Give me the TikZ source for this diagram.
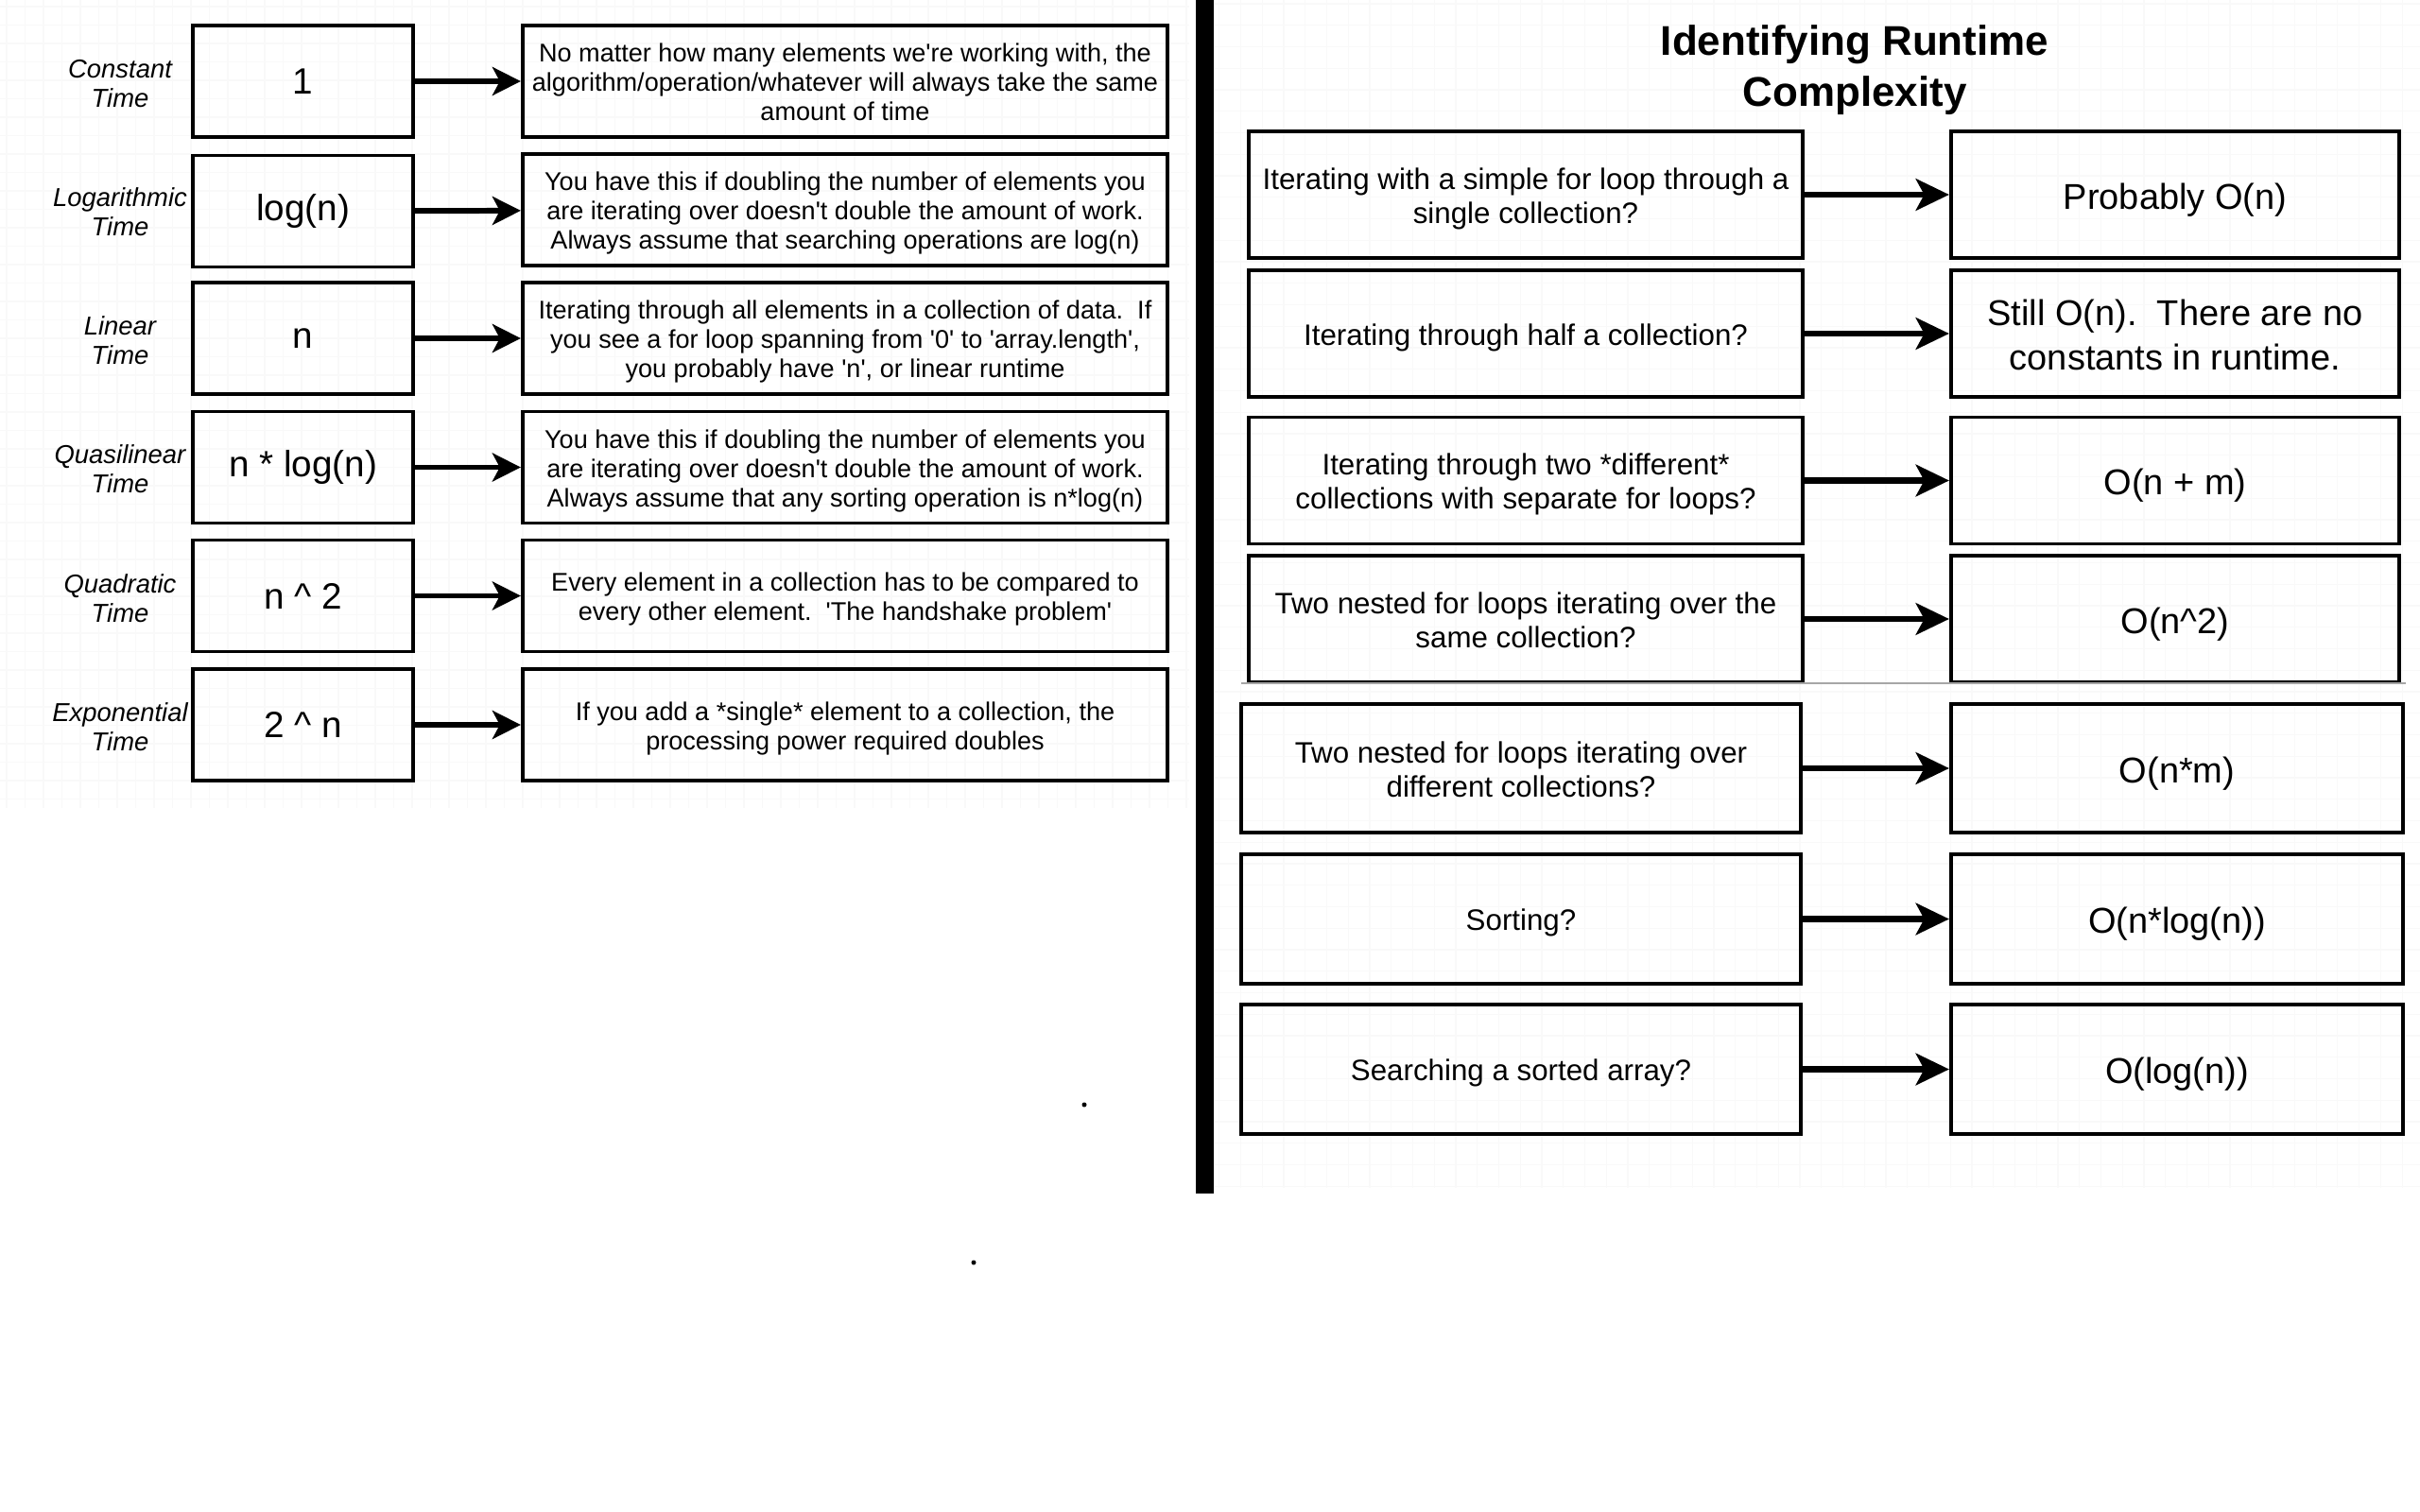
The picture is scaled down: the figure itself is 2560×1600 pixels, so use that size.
\documentclass[tikz,border=0pt]{standalone}
\usepackage{fontspec}
\setmainfont{Liberation Sans}
\usetikzlibrary{arrows.meta}
\newcommand{\sq}{\textquotesingle}
\newcommand{\caret}{\textasciicircum}
% struts that give every box the same text centring
\newcommand{\tp}{\rule{0pt}{1em}}
\newcommand{\bt}{\rule[-0.21em]{0pt}{0.21em}}

\begin{document}
\begin{tikzpicture}[x=0.01cm,y=-0.01cm,
  symbox/.style={draw,line width=1.1pt,minimum width=2.33cm,minimum height=1.18cm,
    inner sep=0pt,font=\fontsize{11}{13}\selectfont},
  descbox/.style={draw,line width=1.1pt,minimum width=6.82cm,minimum height=1.18cm,
    inner sep=0pt,align=center,font=\fontsize{7.7}{8.8}\selectfont},
  lbl/.style={align=center,inner sep=0pt,font=\fontsize{7.8}{8.8}\selectfont\itshape},
  qbox/.style={draw,line width=1.1pt,minimum width=5.86cm,minimum height=1.34cm,
    inner sep=0pt,align=center,font=\fontsize{8.9}{10.24}\selectfont},
  abox/.style={draw,line width=1.1pt,minimum width=4.74cm,minimum height=1.34cm,
    inner sep=0pt,align=center,font=\fontsize{10.8}{13.1}\selectfont},
  conn/.style={line width=1.7pt,-{Stealth[length=8.5pt,width=8.5pt,inset=2.2pt]}},
  bigconn/.style={line width=1.9pt,-{Stealth[length=10pt,width=9.5pt,inset=2.5pt]}}]

  \fill[white](0,0)rectangle(2560,1600);
  \useasboundingbox(0,0)rectangle(2560,1600);

  % faint canvas grid
  \foreach \gx in {7,26.5,...,1255}\draw[black!2.5,line width=0.3pt](\gx,0)--(\gx,855);
  \foreach \gy in {7,26.5,...,855}\draw[black!2.5,line width=0.3pt](0,\gy)--(1258,\gy);
  \foreach \gx in {1289.75,1312.5,...,2560}\draw[black!2.5,line width=0.3pt](\gx,0)--(\gx,1257);
  \foreach \gy in {4,26.75,...,1257}\draw[black!2.5,line width=0.3pt](1285,\gy)--(2560,\gy);

  % divider
  \fill(1265,0)rectangle(1284,1263);

  % left panel
  \node[lbl](l1)at(127,88.5){Constant\\Time};
  \node[symbox](s1)at(320.5,86){1};
  \node[descbox](d1)at(894,86){\tp No matter how many elements we\sq re working with, the\\algorithm/operation/whatever will always take the same\\amount of time\bt};
  \draw[conn](s1)--(d1);

  \node[lbl](l2)at(127,224.5){Logarithmic\\Time};
  \node[symbox](s2)at(320.5,223.5){log(n)};
  \node[descbox](d2)at(894,222){\tp You have this if doubling the number of elements you\\are iterating over doesn\sq t double the amount of work.\\Always assume that searching operations are log(n)\bt};
  \draw[conn](s2)--(d2);

  \node[lbl](l3)at(127,360.5){Linear\\Time};
  \node[symbox](s3)at(320.5,358){n};
  \node[descbox](d3)at(894,358){\tp Iterating through all elements in a collection of data.\ \ If\\you see a for loop spanning from \sq 0\sq{} to \sq array.length\sq ,\\you probably have \sq n\sq , or linear runtime\bt};
  \draw[conn](s3)--(d3);

  \node[lbl](l4)at(127,496.5){Quasilinear\\Time};
  \node[symbox](s4)at(320.5,494.5){n * log(n)};
  \node[descbox](d4)at(894,494.5){\tp You have this if doubling the number of elements you\\are iterating over doesn\sq t double the amount of work.\\Always assume that any sorting operation is n*log(n)\bt};
  \draw[conn](s4)--(d4);

  \node[lbl](l5)at(127,633.5){Quadratic\\Time};
  \node[symbox](s5)at(320.5,630.5){n \caret{} 2};
  \node[descbox](d5)at(894,630.5){\tp Every element in a collection has to be compared to\\every other element.\ \ \sq The handshake problem\sq\bt};
  \draw[conn](s5)--(d5);

  \node[lbl](l6)at(127,769.5){Exponential\\Time};
  \node[symbox](s6)at(320.5,767){2 \caret{} n};
  \node[descbox](d6)at(894,767){\tp If you add a *single* element to a collection, the\\processing power required doubles\bt};
  \draw[conn](s6)--(d6);

  \fill(1147,1169)circle(2.5);
  \fill(1030,1336)circle(2.5);

  % right panel
  \node[align=center,font=\fontsize{12.5}{15.4}\selectfont\bfseries](title)at(1962,74){Identifying Runtime\\Complexity};

  \node[qbox](q1)at(1614,206){\tp Iterating with a simple for loop through a\\single collection?\bt};
  \node[abox](a1)at(2301,206){\tp Probably O(n)\bt};
  \draw[bigconn](q1)--(a1);

  \node[qbox](q2)at(1614,353){\tp Iterating through half a collection?\bt};
  \node[abox](a2)at(2301,353){\tp Still O(n).\ \ There are no\\constants in runtime.\bt};
  \draw[bigconn](q2)--(a2);

  \node[qbox](q3)at(1614,508.5){\tp Iterating through two *different*\\collections with separate for loops?\bt};
  \node[abox](a3)at(2301,508.5){\tp O(n + m)\bt};
  \draw[bigconn](q3)--(a3);

  \node[qbox](q4)at(1614,655){\tp Two nested for loops iterating over the\\same collection?\bt};
  \node[abox](a4)at(2301,655){\tp O(n\caret 2)\bt};
  \draw[bigconn](q4)--(a4);
  \draw[black!35,line width=0.6pt](1313,723)--(2545,723);

  \node[qbox,minimum width=5.92cm,minimum height=1.36cm](q5)at(1609,813){\tp Two nested for loops iterating over\\different collections?\bt};
  \node[abox,minimum width=4.78cm,minimum height=1.36cm](a5)at(2303,813){\tp O(n*m)\bt};
  \draw[bigconn](q5)--(a5);

  \node[qbox,minimum width=5.92cm,minimum height=1.37cm](q6)at(1609,972.5){\tp Sorting?\bt};
  \node[abox,minimum width=4.78cm,minimum height=1.37cm](a6)at(2303,972.5){\tp O(n*log(n))\bt};
  \draw[bigconn](q6)--(a6);

  \node[qbox,minimum width=5.92cm,minimum height=1.37cm](q7)at(1609,1131.5){\tp Searching a sorted array?\bt};
  \node[abox,minimum width=4.78cm,minimum height=1.37cm](a7)at(2303,1131.5){\tp O(log(n))\bt};
  \draw[bigconn](q7)--(a7);

\end{tikzpicture}
\end{document}
